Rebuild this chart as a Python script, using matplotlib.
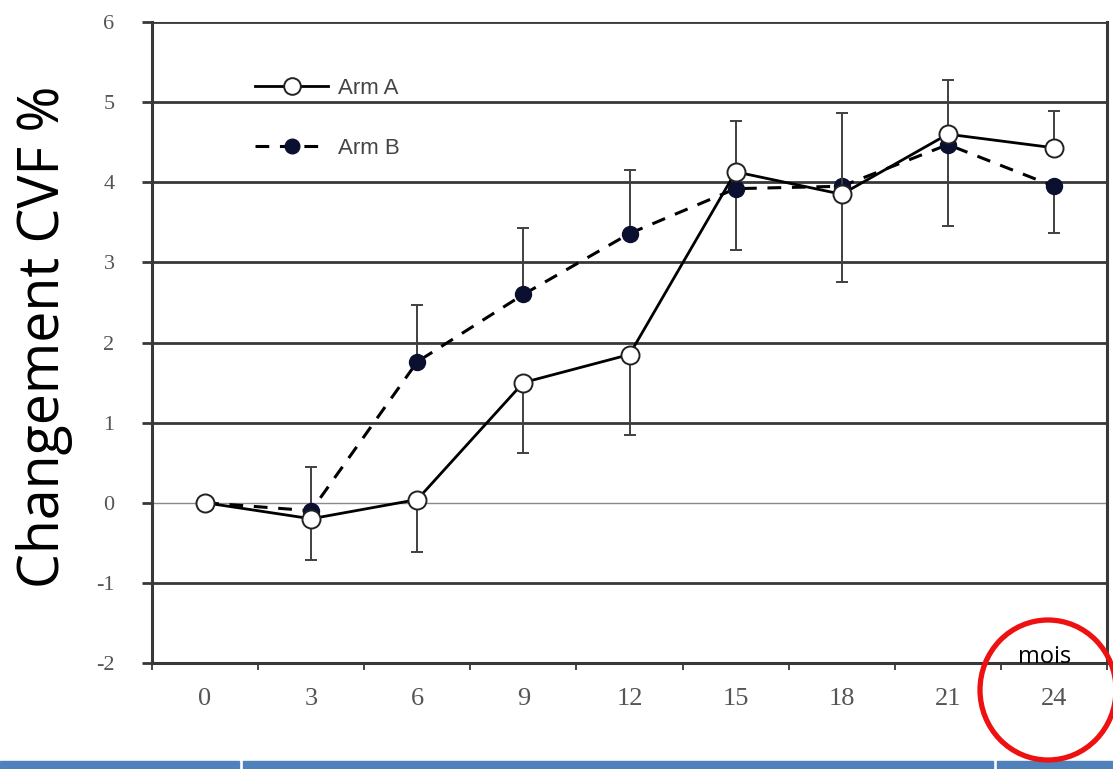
import matplotlib
matplotlib.use("Agg")
import matplotlib.pyplot as plt
from matplotlib.patches import Ellipse, Rectangle
from matplotlib.lines import Line2D
import numpy as np

# ---- data ----
months = ["0", "3", "6", "9", "12", "15", "18", "21", "24"]
arm_a = [0.0, -0.20, 0.04, 1.50, 1.85, 4.13, 3.85, 4.60, 4.43]
arm_a_err_lo = [0.0, 0.51, 0.66, 0.88, 1.00, 0.0, 0.0, 0.0, 0.0]
arm_a_err_hi = [0.0, 0.0, 0.0, 0.0, 0.0, 0.64, 1.02, 0.67, 0.46]
arm_b = [0.0, -0.10, 1.76, 2.60, 3.36, 3.92, 3.95, 4.47, 3.95]
arm_b_err_lo = [0.0, 0.0, 0.0, 0.0, 0.0, 0.77, 1.19, 1.02, 0.58]
arm_b_err_hi = [0.0, 0.55, 0.71, 0.83, 0.79, 0.0, 0.0, 0.0, 0.0]
y_ticks = [-2, -1, 0, 1, 2, 3, 4, 5, 6]
y_tick_labels = ["-2", "-1", "0", "1", "2", "3", "4", "5", "6"]

W, H = 1113, 769
fig = plt.figure(figsize=(W / 100, H / 100), dpi=100)
ax = fig.add_axes([152 / W, (H - 663) / H, (1107 - 152) / W, (663 - 22) / H])

x = np.arange(len(months))
grid_col = "#383838"
for yv in y_ticks:
    if yv == 0:
        ax.axhline(yv, color="#8a8a8a", lw=1.0, zorder=1)
    else:
        ax.axhline(yv, color=grid_col, lw=2.0, zorder=1)

ebar_col = "#404040"
b_dash = (0, (4.5, 3.5))
ax.errorbar(x, arm_b, yerr=[arm_b_err_lo, arm_b_err_hi], color="black",
            ecolor=ebar_col, elinewidth=1.4, capsize=4.5, capthick=1.4,
            lw=2.2, ls=b_dash, marker="o", ms=11.5,
            mfc="#0b1030", mec="#0b1030", zorder=3)
ax.errorbar(x, arm_a, yerr=[arm_a_err_lo, arm_a_err_hi], color="black",
            ecolor=ebar_col, elinewidth=1.4, capsize=4.5, capthick=1.4,
            lw=2.0, ls="-", marker="o", ms=13, mfc="white", mec="#222222",
            mew=1.4, zorder=4)

ax.set_xlim(-0.5, 8.5)
ax.set_ylim(-2, 6)
ax.set_yticks(y_ticks)
ax.set_yticklabels(y_tick_labels, family="Liberation Serif", fontsize=16, color="#555555")
ax.set_xticks(x)
ax.set_xticklabels(months, family="Liberation Serif", fontsize=19, color="#555555")
ax.set_xticks(np.arange(-0.5, 9.0, 1.0), minor=True)
ax.tick_params(axis="x", which="major", length=0, pad=18)
ax.tick_params(axis="x", which="minor", length=5, width=1.3, color=grid_col, direction="out")
ax.tick_params(axis="y", which="major", length=7, width=2, color=grid_col, direction="out", pad=20)

for s in ["left", "bottom", "right"]:
    ax.spines[s].set_color(grid_col)
    ax.spines[s].set_linewidth(2.2)
ax.spines["top"].set_visible(False)

# legend
h_a = Line2D([], [], color="black", lw=2.0, marker="o", ms=12, mfc="white",
             mec="#222222", mew=1.4)
h_b = Line2D([], [], color="black", lw=2.2, ls=b_dash, marker="o", ms=10.5,
             mfc="#0b1030", mec="#0b1030")
leg = ax.legend([h_a, h_b], ["Arm A", "Arm B"], loc="upper left",
                bbox_to_anchor=((255 - 152) / 955, (663 - 78) / 641), frameon=False,
                borderpad=0, borderaxespad=0, handlelength=3.3,
                labelspacing=1.75, prop={"family": "Liberation Sans", "size": 16},
                handletextpad=0.45)
for t in leg.get_texts():
    t.set_color("#444444")

fig.text(45 / W, 1 - 337 / H, "Changement CVF %", rotation=90, ha="center", va="center",
         fontsize=40, family="Open Sans", color="black")

fig.text(1045 / W, 1 - 657 / H, "mois", ha="center", va="center", fontsize=17,
         family="Open Sans", color="black")

circ = Ellipse((1048 / W, 1 - 690 / H), 136 / W, 140 / H, transform=fig.transFigure,
               fill=False, ec="#ee1111", lw=3.8, zorder=10)
fig.add_artist(circ)

# bottom blue band
for x0, x1 in [(0, 239), (243, 993), (997, W)]:
    fig.add_artist(Rectangle((x0 / W, 0), (x1 - x0) / W, 8 / H, transform=fig.transFigure,
                             color="#4f81bd", zorder=5))

fig.savefig("out.png", dpi=100)
